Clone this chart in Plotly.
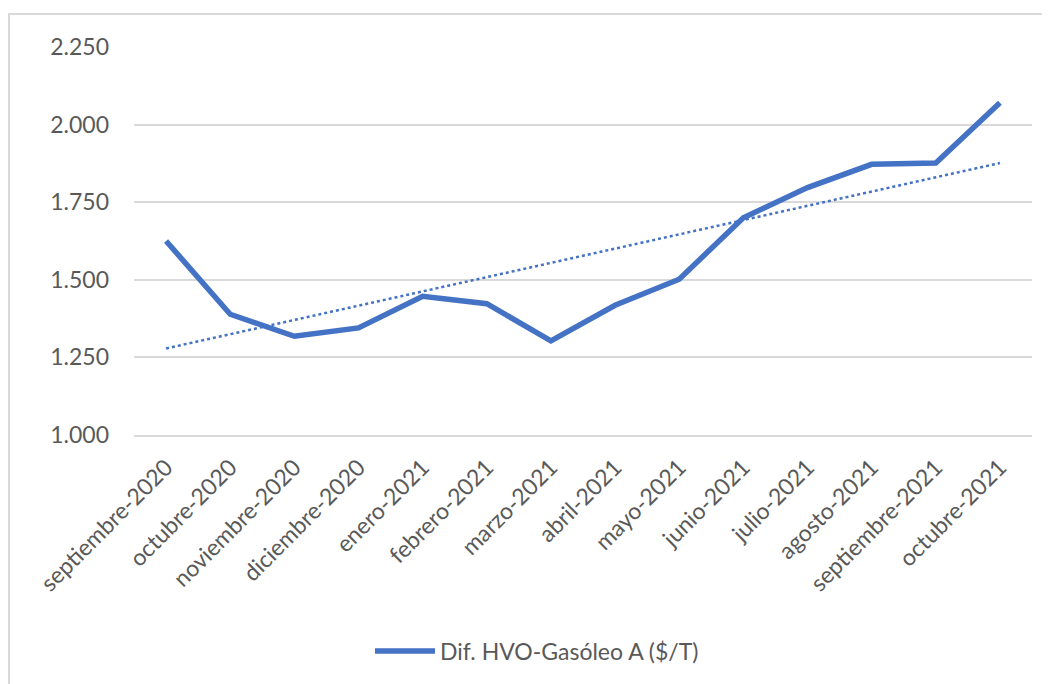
import numpy as np
import plotly.graph_objects as go

categories = ["septiembre-2020", "octubre-2020", "noviembre-2020", "diciembre-2020",
              "enero-2021", "febrero-2021", "marzo-2021", "abril-2021", "mayo-2021",
              "junio-2021", "julio-2021", "agosto-2021", "septiembre-2021", "octubre-2021"]
values = [1625, 1389, 1318, 1345, 1447, 1423, 1303, 1418, 1502, 1700, 1797, 1872, 1876, 2070]
series_name = "Dif. HVO-Gasóleo A ($/T)"
y_ticks = [1000, 1250, 1500, 1750, 2000, 2250]

# Linear trendline (least squares), as in the spreadsheet chart
xi = np.arange(len(values))
slope, intercept = np.polyfit(xi, values, 1)
trend = (slope * xi + intercept).tolist()

FONT = "Lato"
TXT = "#595959"
BLUE = "#4472C4"
GRID = "#D9D9D9"
FS = 23

fig = go.Figure()
fig.add_trace(go.Scatter(x=categories, y=values, mode="lines", name=series_name,
                         line=dict(color=BLUE, width=5.5), showlegend=True))
fig.add_trace(go.Scatter(x=categories, y=trend, mode="lines", name="Lineal",
                         line=dict(color=BLUE, width=2.5, dash="dot"), showlegend=False))

# page has an 8px body margin; figure pixel = screen pixel - 8
OFF = 8
W, H = 1042, 676
L, T = 134 - OFF, 47 - OFF
R = W - (1032 - OFF)
B = H - (435 - OFF)
pw, ph = W - L - R, H - T - B

def px_x(p):
    return (p - OFF - L) / pw

def px_y(p):
    return (H - B - (p - OFF)) / ph

fig.update_layout(
    width=W, height=H,
    margin=dict(l=L, r=R, t=T, b=B, autoexpand=False),
    paper_bgcolor="white", plot_bgcolor="white",
    separators=",.",
    font=dict(family=FONT, color=TXT, size=FS),
    xaxis=dict(type="category", range=[-0.5, len(categories) - 0.5], automargin=False,
               showgrid=False, showline=True, linecolor=GRID, linewidth=1.5,
               ticks="", tickangle=-45, tickfont=dict(size=FS, color=TXT, family=FONT),
               ticklabelstandoff=8, fixedrange=True),
    yaxis=dict(range=[1000, 2250], tickvals=y_ticks, tickformat=",d", automargin=False,
               showgrid=True, gridcolor=GRID, gridwidth=1.5, zeroline=False,
               showline=False, ticks="", tickfont=dict(size=FS, color=TXT, family=FONT),
               ticklabelstandoff=24, fixedrange=True),
    legend=dict(x=px_x(537), y=px_y(651), xanchor="center", yanchor="middle",
                orientation="h", font=dict(size=FS, color=TXT, family=FONT),
                bgcolor="rgba(0,0,0,0)", itemwidth=60),
    showlegend=True,
    shapes=[dict(type="rect", xref="paper", yref="paper",
                 x0=px_x(9), x1=px_x(1070), y0=px_y(700), y1=px_y(14),
                 line=dict(color=GRID, width=2), fillcolor="rgba(0,0,0,0)", layer="below")],
)

fig.write_html("out.html")
